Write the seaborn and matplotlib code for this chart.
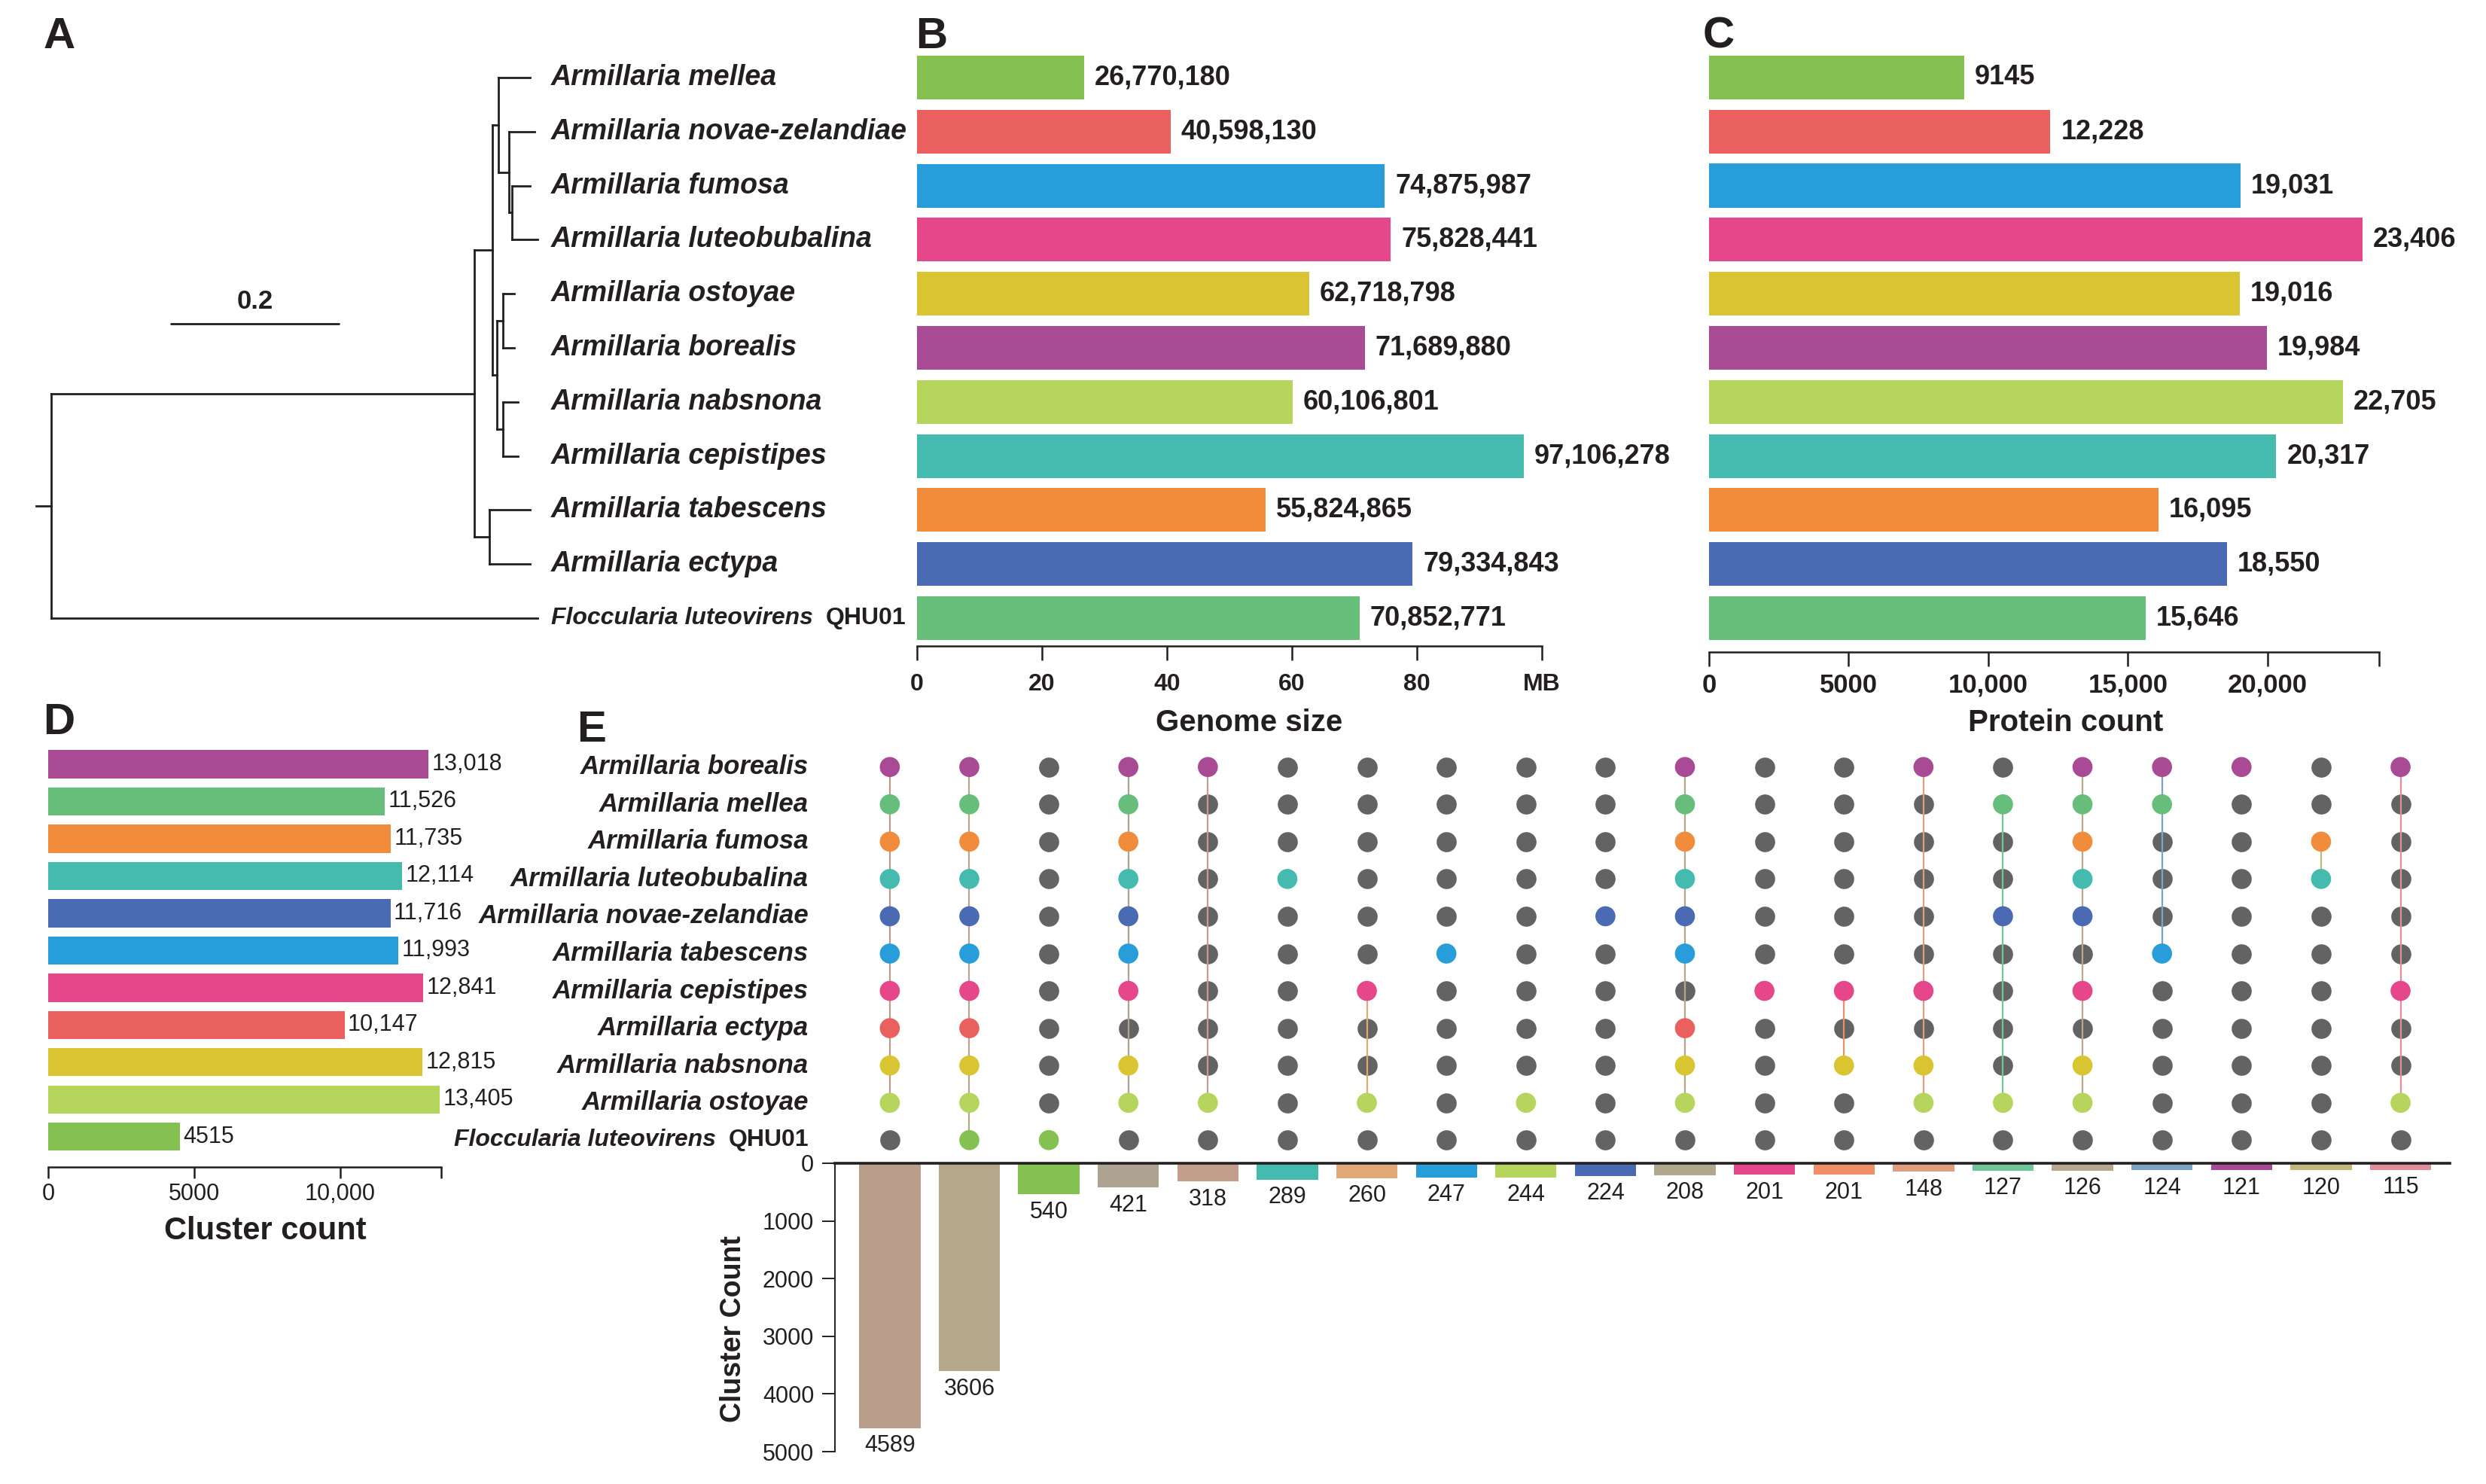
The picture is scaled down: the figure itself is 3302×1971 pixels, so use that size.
import numpy as np
import pandas as pd
import matplotlib.pyplot as plt
import seaborn as sns

# ---- data for panels A-C (same species order as the tree tips) ----
species_abc = ['Armillaria mellea', 'Armillaria novae-zelandiae', 'Armillaria fumosa',
               'Armillaria luteobubalina', 'Armillaria ostoyae', 'Armillaria borealis',
               'Armillaria nabsnona', 'Armillaria cepistipes', 'Armillaria tabescens',
               'Armillaria ectypa', 'Floccularia luteovirens QHU01']
genome_size_bp = [26770180, 40598130, 74875987, 75828441, 62718798, 71689880,
                  60106801, 97106278, 55824865, 79334843, 70852771]
protein_count = [9145, 12228, 19031, 23406, 19016, 19984, 22705, 20317, 16095, 18550, 15646]
colors_abc = ['#84C151', '#E9605E', '#279DDA', '#E6478A', '#D8C531', '#A94B94',
              '#B5D55C', '#45BBB0', '#F18C3C', '#4A6BB3', '#67BE7A']

# phylogeny: (branch length, leaf name or list of children)
tree = (0.0, [
    (0.504, [
        (0.022, [
            (0.007, [
                (0.037, 'Armillaria mellea'),
                (0.012, [
                    (0.031, 'Armillaria novae-zelandiae'),
                    (0.004, [(0.021, 'Armillaria fumosa'), (0.030, 'Armillaria luteobubalina')]),
                ]),
            ]),
            (0.005, [
                (0.007, [(0.014, 'Armillaria ostoyae'), (0.014, 'Armillaria borealis')]),
                (0.007, [(0.018, 'Armillaria nabsnona'), (0.018, 'Armillaria cepistipes')]),
            ]),
        ]),
        (0.018, [(0.048, 'Armillaria tabescens'), (0.048, 'Armillaria ectypa')]),
    ]),
    (0.579, 'Floccularia luteovirens QHU01'),
])

# ---- data for panels D-E ----
species_de = ['Armillaria borealis', 'Armillaria mellea', 'Armillaria fumosa',
              'Armillaria luteobubalina', 'Armillaria novae-zelandiae', 'Armillaria tabescens',
              'Armillaria cepistipes', 'Armillaria ectypa', 'Armillaria nabsnona',
              'Armillaria ostoyae', 'Floccularia luteovirens QHU01']
cluster_count = [13018, 11526, 11735, 12114, 11716, 11993, 12841, 10147, 12815, 13405, 4515]
colors_de = ['#A94B94', '#67BE7A', '#F18C3C', '#45BBB0', '#4A6BB3', '#279DDA',
             '#E6478A', '#E9605E', '#D8C531', '#B5D55C', '#84C151']

intersection_sizes = [4589, 3606, 540, 421, 318, 289, 260, 247, 244, 224,
                      208, 201, 201, 148, 127, 126, 124, 121, 120, 115]
# row indices (into species_de) that belong to each intersection
intersection_members = [
    [0, 1, 2, 3, 4, 5, 6, 7, 8, 9],
    [0, 1, 2, 3, 4, 5, 6, 7, 8, 9, 10],
    [10],
    [0, 1, 2, 3, 4, 5, 6, 8, 9],
    [0, 9],
    [3],
    [6, 9],
    [5],
    [9],
    [4],
    [0, 1, 2, 3, 4, 5, 7, 8, 9],
    [6],
    [6, 8],
    [0, 6, 8, 9],
    [1, 4, 9],
    [0, 1, 2, 3, 4, 6, 8, 9],
    [0, 1, 5],
    [0],
    [2, 3],
    [0, 6, 9],
]
intersection_colors = ['#B89D8A', '#B5A88A', '#84C151', '#AEA390', '#C49E8C', '#45BBB0',
                       '#E2A878', '#279DDA', '#B5D55C', '#4A6BB3', '#B0A88C', '#E6478A',
                       '#F08E68', '#E09E80', '#6EC799', '#B8A88E', '#7EA3C4', '#A94B94',
                       '#C2B87A', '#E08E9A']

TXT = '#231F20'
GRAY = '#636363'

sns.set_style('ticks')
plt.rcParams['font.family'] = ['Liberation Sans', 'DejaVu Sans']
plt.rcParams['text.color'] = TXT
plt.rcParams['axes.edgecolor'] = TXT
plt.rcParams['xtick.color'] = TXT
plt.rcParams['ytick.color'] = TXT

W, H = 3302, 1971
fig = plt.figure(figsize=(W / 200, H / 200), dpi=200)
fig.patch.set_facecolor('white')


def px_axes(left, top, right, bottom):
    return fig.add_axes([left / W, 1 - bottom / H, (right - left) / W, (bottom - top) / H])


def px_text(x, y, s, **kw):
    return fig.text(x / W, 1 - y / H, s, **kw)


def fmt(v):
    return f'{v:,}' if v >= 10000 else str(v)


# ---------------- A: tree ----------------
axA = px_axes(0, 66, 1218, 858)
axA.set_xlim(-0.061, 1.0314)
axA.set_ylim(10.515, -0.515)
axA.axis('off')

lines, leaves = [], []


def layout(node, x0):
    length, child = node
    x1 = x0 + length
    if isinstance(child, str):
        y = len(leaves)
        leaves.append((child, x1, y))
    else:
        ys = [layout(c, x1) for c in child]
        y = (ys[0] + ys[-1]) / 2
        lines.append(((x1, x1), (ys[0], ys[-1])))
    lines.append(((x0, x1), (y, y)))
    return y


root_y = layout(tree, 0.0)
lines.append(((-0.018, 0.0), (root_y, root_y)))
for xs, ys in lines:
    axA.plot(xs, ys, color=TXT, lw=1.0, solid_capstyle='projecting')

for name, x, y in leaves:
    if name.startswith('Floccularia'):
        t = axA.text(0.5955, y, 'Floccularia luteovirens', fontsize=11.5, fontweight='bold',
                     fontstyle='italic', va='center', ha='left')
        axA.annotate('QHU01', xy=(1, 0), xycoords=t, xytext=(6, 0), textcoords='offset points',
                     fontsize=11.5, fontweight='bold', va='bottom', ha='left')
    else:
        axA.text(0.5955, y, name, fontsize=13.5, fontweight='bold', fontstyle='italic',
                 va='center', ha='left')

# scale bar
axA.plot([0.1426, 0.3426], [4.55, 4.55], color=TXT, lw=1.0)
axA.text(0.2426, 4.14, '0.2', fontsize=12.5, fontweight='bold', ha='center', va='center')

# ---------------- B: genome size ----------------
axB = px_axes(1218, 66, 2048, 858)
dfB = pd.DataFrame({'species': species_abc, 'size_mb': np.array(genome_size_bp) / 1e6})
sns.barplot(data=dfB, x='size_mb', y='species', hue='species', palette=colors_abc,
            width=0.81, saturation=1, linewidth=0, legend=False, orient='h', ax=axB)
axB.set_xlim(0, 100)
axB.set_ylim(10.515, -0.515)
for cont, v in zip(axB.containers, genome_size_bp):
    axB.bar_label(cont, labels=[fmt(v)], padding=5, fontsize=13, fontweight='bold')
axB.set_xticks([0, 20, 40, 60, 80, 100])
axB.set_xticklabels(['0', '20', '40', '60', '80', 'MB'], fontsize=11.5, fontweight='bold')
axB.set_yticks([])
axB.set_xlabel('')
axB.set_ylabel('')
sns.despine(ax=axB, left=True)
axB.spines['bottom'].set_linewidth(0.9)
axB.tick_params(axis='x', length=7, width=0.9, pad=6)
px_text(1659, 971, 'Genome size', fontsize=14.5, fontweight='bold', ha='center', va='baseline')

# ---------------- C: protein count ----------------
axC = px_axes(2270, 66, 3160, 866)
dfC = pd.DataFrame({'species': species_abc, 'proteins': protein_count})
sns.barplot(data=dfC, x='proteins', y='species', hue='species', palette=colors_abc,
            width=0.81, saturation=1, linewidth=0, legend=False, orient='h', ax=axC)
axC.set_xlim(0, 24000)
axC.set_ylim(10.627, -0.515)
for cont, v in zip(axC.containers, protein_count):
    axC.bar_label(cont, labels=[fmt(v)], padding=5, fontsize=13, fontweight='bold')
axC.set_xticks([0, 5000, 10000, 15000, 20000, 24000])
axC.set_xticklabels(['0', '5000', '10,000', '15,000', '20,000', ''], fontsize=12.5,
                    fontweight='bold')
axC.set_yticks([])
axC.set_xlabel('')
axC.set_ylabel('')
sns.despine(ax=axC, left=True)
axC.spines['bottom'].set_linewidth(0.9)
axC.tick_params(axis='x', length=7, width=0.9, pad=3)
px_text(2744, 971, 'Protein count', fontsize=14.5, fontweight='bold', ha='center', va='baseline')

# ---------------- D: cluster count ----------------
axD = px_axes(64, 981, 586, 1550)
dfD = pd.DataFrame({'species': species_de, 'clusters': cluster_count})
sns.barplot(data=dfD, x='clusters', y='species', hue='species', palette=colors_de,
            width=0.75, saturation=1, linewidth=0, legend=False, orient='h', ax=axD)
axD.set_xlim(0, 13450)
axD.set_ylim(10.81, -0.687)
for cont, v in zip(axD.containers, cluster_count):
    axD.bar_label(cont, labels=[fmt(v)], padding=1.5, fontsize=11)
axD.set_xticks([0, 5000, 10000, 13450])
axD.set_xticklabels(['0', '5000', '10,000', ''], fontsize=11)
axD.set_yticks([])
axD.set_xlabel('')
axD.set_ylabel('')
sns.despine(ax=axD, left=True)
axD.spines['bottom'].set_linewidth(0.9)
axD.tick_params(axis='x', length=5.5, width=0.9, pad=2)
px_text(352, 1646, 'Cluster count', fontsize=15, fontweight='bold', ha='center', va='baseline')

# ---------------- E: intersection matrix ----------------
e_left, e_right = 1109, 3254
xlim_e = (-0.69, 19.62)
axM = px_axes(e_left, 989, e_right, 1544)
recs = []
for c, members in enumerate(intersection_members):
    for r, sp in enumerate(species_de):
        recs.append({'set': c, 'row': r, 'species': sp, 'in_set': r in members})
matrix = pd.DataFrame(recs)
sns.scatterplot(data=matrix[~matrix['in_set']], x='set', y='row', color=GRAY, s=92,
                linewidth=0, ax=axM, zorder=2)
for c, members in enumerate(intersection_members):
    if len(members) > 1:
        axM.plot([c, c], [min(members), max(members)], color=intersection_colors[c],
                 lw=0.8, zorder=3)
sns.scatterplot(data=matrix[matrix['in_set']], x='set', y='row', hue='species',
                palette=dict(zip(species_de, colors_de)), s=92, linewidth=0,
                legend=False, ax=axM, zorder=4)
axM.set_xlim(*xlim_e)
axM.set_ylim(10.6, -0.6)
axM.axis('off')
lab_x = (1074 - e_left) / (e_right - e_left)
for r, sp in enumerate(species_de):
    if sp.startswith('Floccularia'):
        t = axM.text(lab_x, r, 'QHU01', transform=axM.get_yaxis_transform(), fontsize=11.5,
                     fontweight='bold', ha='right', va='center')
        axM.annotate('Floccularia luteovirens', xy=(0, 0), xycoords=t, xytext=(-6, 0),
                     textcoords='offset points', fontsize=11.5, fontweight='bold',
                     fontstyle='italic', ha='right', va='bottom')
    else:
        axM.text(lab_x, r, sp, transform=axM.get_yaxis_transform(), fontsize=12.5,
                 fontweight='bold', fontstyle='italic', ha='right', va='center')

# intersection sizes (bars hang downwards)
axE = px_axes(e_left, 1545, e_right, 1928)
dfE = pd.DataFrame({'set': [f'S{i + 1}' for i in range(len(intersection_sizes))],
                    'count': intersection_sizes})
sns.barplot(data=dfE, x='set', y='count', hue='set', palette=intersection_colors,
            width=0.77, saturation=1, linewidth=0, legend=False, ax=axE)
axE.set_xlim(*xlim_e)
axE.set_ylim(5000, 0)
for cont, v in zip(axE.containers, intersection_sizes):
    axE.bar_label(cont, labels=[str(v)], padding=3, fontsize=11)
axE.set_xticks([])
axE.set_yticks([0, 1000, 2000, 3000, 4000, 5000])
axE.set_yticklabels(['0', '1000', '2000', '3000', '4000', '5000'], fontsize=11)
axE.set_xlabel('')
axE.set_ylabel('')
for side in ['bottom', 'right']:
    axE.spines[side].set_visible(False)
axE.spines['top'].set_visible(True)
axE.spines['top'].set_linewidth(1.3)
axE.spines['left'].set_linewidth(0.7)
axE.tick_params(axis='y', length=6, width=0.7, pad=4)
px_text(974, 1765, 'Cluster Count', fontsize=13.5, fontweight='bold', rotation=90,
        ha='center', va='center')

# ---------------- panel letters ----------------
for letter, x, y in [('A', 58, 64), ('B', 1216, 64), ('C', 2262, 64), ('D', 57, 975), ('E', 766, 985)]:
    px_text(x, y, letter, fontsize=21, fontweight='bold', ha='left', va='baseline')

fig.savefig('out.png', dpi=200, facecolor='white')
